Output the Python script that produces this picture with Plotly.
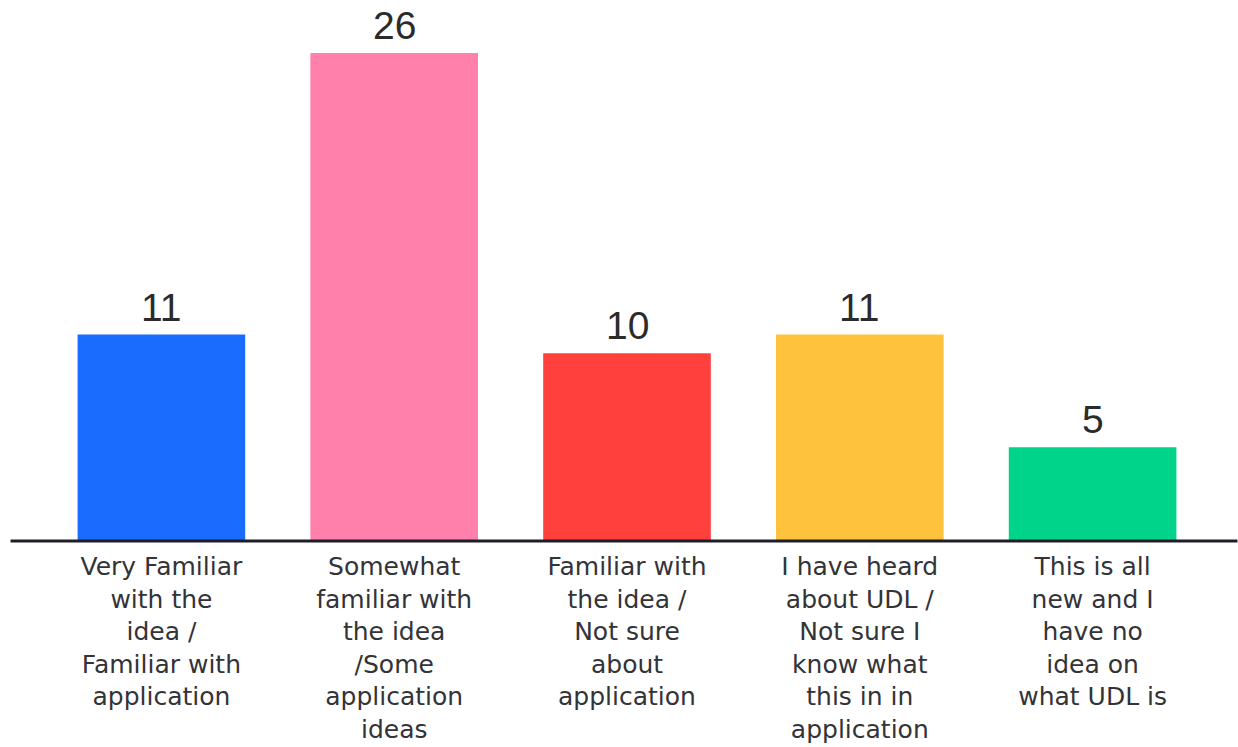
import plotly.graph_objects as go

categories = [
    "Very Familiar<br>with the<br>idea /<br>Familiar with<br>application",
    "Somewhat<br>familiar with<br>the idea<br>/Some<br>application<br>ideas",
    "Familiar with<br>the idea /<br>Not sure<br>about<br>application",
    "I have heard<br>about UDL /<br>Not sure I<br>know what<br>this in in<br>application",
    "This is all<br>new and I<br>have no<br>idea on<br>what UDL is",
]
values = [11, 26, 10, 11, 5]
colors = ["#196CFF", "#FF80AB", "#FF403D", "#FFC23D", "#00D38A"]

fig = go.Figure()
fig.add_trace(go.Bar(
    x=categories, y=values,
    marker=dict(color=colors, line=dict(width=0)),
    width=0.72,
    hoverinfo="skip",
))

for c, v in zip(categories, values):
    fig.add_annotation(
        x=c, y=v, text=str(v), showarrow=False,
        yanchor="bottom", yshift=4,
        font=dict(family="Liberation Sans, Arial", size=39, color="#2b2b2b"),
    )

L, R = 44.5, 28.5
W = 1238 - L - R
fig.add_shape(
    type="line", xref="paper", yref="paper",
    x0=(10 - L) / W, x1=(1238 - L) / W, y0=0, y1=0,
    line=dict(color="#1e1e28", width=3), layer="above",
)

fig.update_layout(
    width=1238, height=747,
    margin=dict(l=L, r=R, t=53, b=206, autoexpand=False),
    paper_bgcolor="white", plot_bgcolor="white",
    showlegend=False,
    bargap=0.28,
    xaxis=dict(
        showgrid=False, zeroline=False, showline=False, automargin=False,
        ticks="", tickfont=dict(family="DejaVu Sans", size=25, color="#333338"),
        ticklabelstandoff=8, fixedrange=True,
    ),
    yaxis=dict(
        range=[0, 26], visible=False, showgrid=False, zeroline=False,
    ),
)

fig.write_html("out.html")
